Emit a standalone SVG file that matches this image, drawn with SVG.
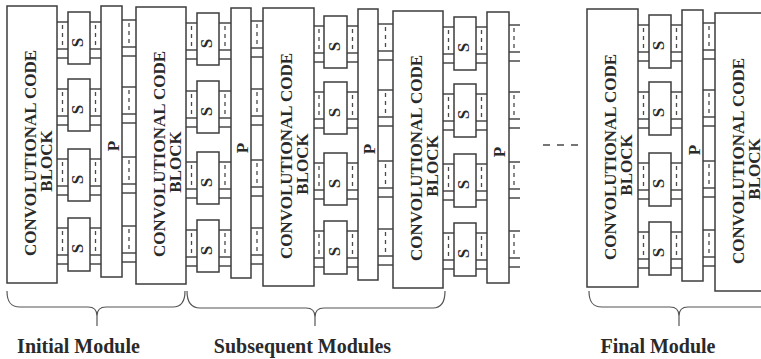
<svg xmlns="http://www.w3.org/2000/svg" width="761" height="359" viewBox="0 0 761 359">
<style>
.box{fill:#fff;stroke:#3c3c3c;stroke-width:1.5}
.ln{fill:none;stroke:#4a4a4a;stroke-width:1.3}
.dash{fill:none;stroke:#4a4a4a;stroke-width:1.3;stroke-dasharray:4 4}
.brace{fill:none;stroke:#555;stroke-width:1.2}
text{font-family:"Liberation Serif","Times New Roman",serif;font-weight:bold;fill:#2a2a2a}
.t{font-size:17px;text-anchor:middle}
.lab{font-size:20px;text-anchor:middle}
</style>
<rect width="761" height="359" fill="#fff"/>

<g id="connectors">
<!-- Column 1 -->
<path class="ln" d="M57,22H68M57,49H68M57,58H68M57,89H68M57,116H68M57,125H68M57,159H68M57,186H68M57,195H68M57,228H68M57,255H68M57,264H68"/>
<path class="dash" d="M62.5,25V45M62.5,92V112M62.5,162V182M62.5,231V251"/>
<path class="ln" d="M90,22H101M90,49H101M90,58H101M90,89H101M90,116H101M90,125H101M90,159H101M90,186H101M90,195H101M90,228H101M90,255H101M90,264H101"/>
<path class="dash" d="M95.5,25V45M95.5,92V112M95.5,162V182M95.5,231V251"/>
<path class="ln" d="M122,20H136M122,47H136M122,56H136M122,87H136M122,114H136M122,123H136M122,157H136M122,184H136M122,193H136M122,226H136M122,253H136M122,262H136"/>
<path class="dash" d="M129,23V43M129,90V110M129,160V180M129,229V249"/>
<!-- Column 2 -->
<path class="ln" d="M186,23H197M186,50H197M186,59H197M186,91H197M186,118H197M186,127H197M186,162H197M186,189H197M186,198H197M186,230H197M186,257H197M186,266H197"/>
<path class="dash" d="M191.5,26V46M191.5,94V114M191.5,165V185M191.5,233V253"/>
<path class="ln" d="M219,23H231M219,50H231M219,59H231M219,91H231M219,118H231M219,127H231M219,162H231M219,189H231M219,198H231M219,230H231M219,257H231M219,266H231"/>
<path class="dash" d="M225,26V46M225,94V114M225,165V185M225,233V253"/>
<path class="ln" d="M251,21H263M251,48H263M251,57H263M251,89H263M251,116H263M251,125H263M251,160H263M251,187H263M251,196H263M251,228H263M251,255H263M251,264H263"/>
<path class="dash" d="M257,24V44M257,92V112M257,163V183M257,231V251"/>
<!-- Column 3 -->
<path class="ln" d="M314,26H324M314,53H324M314,62H324M314,92H324M314,119H324M314,128H324M314,163H324M314,190H324M314,199H324M314,231H324M314,258H324M314,267H324"/>
<path class="dash" d="M319,29V49M319,95V115M319,166V186M319,234V254"/>
<path class="ln" d="M347,26H358M347,53H358M347,62H358M347,92H358M347,119H358M347,128H358M347,163H358M347,190H358M347,199H358M347,231H358M347,258H358M347,267H358"/>
<path class="dash" d="M352.5,29V49M352.5,95V115M352.5,166V186M352.5,234V254"/>
<path class="ln" d="M378,24H393M378,51H393M378,60H393M378,90H393M378,117H393M378,126H393M378,161H393M378,188H393M378,197H393M378,229H393M378,256H393M378,265H393"/>
<path class="dash" d="M385.5,27V47M385.5,93V113M385.5,164V184M385.5,232V252"/>
<!-- Column 4 -->
<path class="ln" d="M443,27H454M443,54H454M443,63H454M443,94H454M443,121H454M443,130H454M443,164H454M443,191H454M443,200H454M443,233H454M443,260H454M443,269H454"/>
<path class="dash" d="M448.5,30V50M448.5,97V117M448.5,167V187M448.5,236V256"/>
<path class="ln" d="M476,27H487M476,54H487M476,63H487M476,94H487M476,121H487M476,130H487M476,164H487M476,191H487M476,200H487M476,233H487M476,260H487M476,269H487"/>
<path class="dash" d="M481.5,30V50M481.5,97V117M481.5,167V187M481.5,236V256"/>
<path class="ln" d="M509,25H520M509,52H520M509,61H520M509,92H520M509,119H520M509,128H520M509,162H520M509,189H520M509,198H520M509,231H520M509,258H520M509,267H520"/>
<path class="dash" d="M514,28V48M514,95V115M514,165V185M514,234V254"/>
<!-- Column 5 -->
<path class="ln" d="M638,25H649M638,52H649M638,61H649M638,92H649M638,119H649M638,128H649M638,163H649M638,190H649M638,199H649M638,232H649M638,259H649M638,268H649"/>
<path class="dash" d="M643.5,28V48M643.5,95V115M643.5,166V186M643.5,235V255"/>
<path class="ln" d="M671,25H682M671,52H682M671,61H682M671,92H682M671,119H682M671,128H682M671,163H682M671,190H682M671,199H682M671,232H682M671,259H682M671,268H682"/>
<path class="dash" d="M676.5,28V48M676.5,95V115M676.5,166V186M676.5,235V255"/>
<path class="ln" d="M703,23H715M703,50H715M703,59H715M703,90H715M703,117H715M703,126H715M703,161H715M703,188H715M703,197H715M703,230H715M703,257H715M703,266H715"/>
<path class="dash" d="M709,26V46M709,93V113M709,164V184M709,233V253"/>
<!-- continuation dashes -->
<path class="ln" d="M543,145H550M557,145H564M571,145H578"/>
</g>

<!-- Convolutional code blocks -->
<g id="ccb1"><rect class="box" x="7" y="6" width="50" height="277"/>
<text class="t" transform="translate(35.5,153) rotate(-90)">CONVOLUTIONAL CODE</text>
<text class="t" transform="translate(52,161) rotate(-90)">BLOCK</text></g>
<g id="ccb2"><rect class="box" x="136" y="7" width="50" height="277"/>
<text class="t" transform="translate(164.5,154) rotate(-90)">CONVOLUTIONAL CODE</text>
<text class="t" transform="translate(181,162) rotate(-90)">BLOCK</text></g>
<g id="ccb3"><rect class="box" x="263" y="8" width="51" height="278"/>
<text class="t" transform="translate(291.5,156) rotate(-90)">CONVOLUTIONAL CODE</text>
<text class="t" transform="translate(308,164) rotate(-90)">BLOCK</text></g>
<g id="ccb4"><rect class="box" x="393" y="11" width="50" height="277"/>
<text class="t" transform="translate(421.5,158) rotate(-90)">CONVOLUTIONAL CODE</text>
<text class="t" transform="translate(438,166) rotate(-90)">BLOCK</text></g>
<g id="ccb5"><rect class="box" x="587" y="9" width="51" height="278"/>
<text class="t" transform="translate(615.5,157) rotate(-90)">CONVOLUTIONAL CODE</text>
<text class="t" transform="translate(632,165) rotate(-90)">BLOCK</text></g>
<g id="ccb6"><rect class="box" x="715" y="13" width="60" height="278"/>
<text class="t" transform="translate(743.5,161) rotate(-90)">CONVOLUTIONAL CODE</text>
<text class="t" transform="translate(760,169) rotate(-90)">BLOCK</text></g>

<!-- Permutation blocks -->
<g id="p1"><rect class="box" x="101" y="6" width="21" height="271"/><text class="t" transform="translate(119,146) rotate(-90)">P</text></g>
<g id="p2"><rect class="box" x="231" y="8" width="20" height="270"/><text class="t" transform="translate(248,148) rotate(-90)">P</text></g>
<g id="p3"><rect class="box" x="358" y="9" width="20" height="271"/><text class="t" transform="translate(375,149) rotate(-90)">P</text></g>
<g id="p4"><rect class="box" x="487" y="12" width="22" height="271"/><text class="t" transform="translate(505,152) rotate(-90)">P</text></g>
<g id="p5"><rect class="box" x="682" y="10" width="21" height="271"/><text class="t" transform="translate(700,150) rotate(-90)">P</text></g>

<!-- S boxes column 1 -->
<g id="s1a"><rect class="box" x="68" y="12" width="22" height="52"/><text class="t" transform="translate(83,42.5) rotate(-90)">S</text></g>
<g id="s1b"><rect class="box" x="68" y="79" width="22" height="52"/><text class="t" transform="translate(83,109.5) rotate(-90)">S</text></g>
<g id="s1c"><rect class="box" x="68" y="149" width="22" height="52"/><text class="t" transform="translate(83,179.5) rotate(-90)">S</text></g>
<g id="s1d"><rect class="box" x="68" y="218" width="22" height="53"/><text class="t" transform="translate(83,248.5) rotate(-90)">S</text></g>
<!-- S boxes column 2 -->
<g id="s2a"><rect class="box" x="197" y="13" width="22" height="52"/><text class="t" transform="translate(212,43.5) rotate(-90)">S</text></g>
<g id="s2b"><rect class="box" x="197" y="81" width="22" height="52"/><text class="t" transform="translate(212,111.5) rotate(-90)">S</text></g>
<g id="s2c"><rect class="box" x="197" y="152" width="22" height="52"/><text class="t" transform="translate(212,182.5) rotate(-90)">S</text></g>
<g id="s2d"><rect class="box" x="197" y="220" width="22" height="52"/><text class="t" transform="translate(212,250.5) rotate(-90)">S</text></g>
<!-- S boxes column 3 -->
<g id="s3a"><rect class="box" x="324" y="16" width="23" height="52"/><text class="t" transform="translate(339.5,46.5) rotate(-90)">S</text></g>
<g id="s3b"><rect class="box" x="324" y="82" width="23" height="52"/><text class="t" transform="translate(339.5,112.5) rotate(-90)">S</text></g>
<g id="s3c"><rect class="box" x="324" y="153" width="23" height="52"/><text class="t" transform="translate(339.5,183.5) rotate(-90)">S</text></g>
<g id="s3d"><rect class="box" x="324" y="221" width="23" height="53"/><text class="t" transform="translate(339.5,251.5) rotate(-90)">S</text></g>
<!-- S boxes column 4 -->
<g id="s4a"><rect class="box" x="454" y="17" width="22" height="53"/><text class="t" transform="translate(469,47.5) rotate(-90)">S</text></g>
<g id="s4b"><rect class="box" x="454" y="84" width="22" height="53"/><text class="t" transform="translate(469,114.5) rotate(-90)">S</text></g>
<g id="s4c"><rect class="box" x="454" y="154" width="22" height="53"/><text class="t" transform="translate(469,184.5) rotate(-90)">S</text></g>
<g id="s4d"><rect class="box" x="454" y="223" width="22" height="53"/><text class="t" transform="translate(469,253.5) rotate(-90)">S</text></g>
<!-- S boxes column 5 -->
<g id="s5a"><rect class="box" x="649" y="15" width="22" height="53"/><text class="t" transform="translate(664,45.5) rotate(-90)">S</text></g>
<g id="s5b"><rect class="box" x="649" y="82" width="22" height="53"/><text class="t" transform="translate(664,112.5) rotate(-90)">S</text></g>
<g id="s5c"><rect class="box" x="649" y="153" width="22" height="53"/><text class="t" transform="translate(664,183.5) rotate(-90)">S</text></g>
<g id="s5d"><rect class="box" x="649" y="222" width="22" height="53"/><text class="t" transform="translate(664,252.5) rotate(-90)">S</text></g>

<!-- Braces -->
<g id="braces">
<path class="brace" d="M7,291C7,301 10,307 20,307L88,307C94,307 97,310 97,316L97,326M97,316C97,310 100,307 106,307L173,307C182,307 185,301 185,291"/>
<path class="brace" d="M187,291C187,301 190,308 200,308L306,308C312,308 315,311 315,317L315,326M315,317C315,311 318,308 324,308L433,308C442,308 445,301 445,291"/>
<path class="brace" d="M589,291C589,301 592,307 602,307L670,307C676,307 679,310 679,316L679,326M679,316C679,310 682,307 688,307L770,307"/>
</g>

<g id="labels">
<text class="lab" x="78.5" y="353">Initial Module</text>
<text class="lab" x="302.5" y="353">Subsequent Modules</text>
<text class="lab" x="658" y="353">Final Module</text>
</g>
</svg>
